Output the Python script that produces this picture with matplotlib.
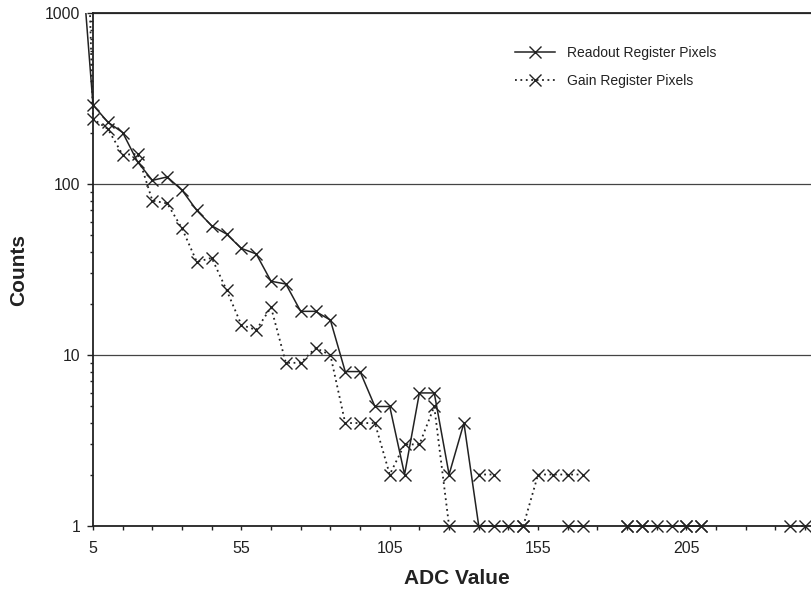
import numpy as np
import matplotlib
matplotlib.use("Agg")
import matplotlib.pyplot as plt
from matplotlib.transforms import Bbox, TransformedBbox
from matplotlib.ticker import FixedLocator, FixedFormatter, NullFormatter

plt.rcParams['font.family'] = ['Liberation Sans', 'DejaVu Sans']

nan = np.nan
adc = list(range(0, 250, 5))

readout = [3800, 290, 230, 200, 135, 105, 110, 92, 70, 57,
           51, 42, 39, 27, 26, 18, 18, 16, 8, 8,
           5, 5, 2, 6, 6, 2, 4, 1, 1, 1,
           1, nan, nan, 1, 1, nan, nan, 1, 1, 1,
           1, 1, 1, nan, nan, nan, nan, nan, nan, nan]

gain = [280000, 240, 210, 148, 150, 80, 77, 55, 35, 37,
        24, 15, 14, 19, 9, 9, 11, 10, 4, 4,
        4, 2, 3, 3, 5, 1, nan, 2, 2, nan,
        1, 2, 2, 2, 2, nan, nan, 1, 1, nan,
        nan, 1, 1, nan, nan, nan, nan, nan, 1, 1]

xtick_labels = ['5', '55', '105', '155', '205']

ink = '#222222'

fig = plt.figure(figsize=(8.12, 6.07), dpi=100)
ax = fig.add_axes([93 / 812, 81 / 607, 727 / 812, 513 / 607])

l1, = ax.plot(adc, readout, color=ink, lw=1.1, ls='-', marker='x',
              markersize=9, markeredgewidth=1.0, label='Readout Register Pixels')
l2, = ax.plot(adc, gain, color=ink, lw=1.3, ls=(0, (1, 2)), marker='x',
              markersize=9, markeredgewidth=1.0, label='Gain Register Pixels')

ax.set_yscale('log')
ax.set_xlim(5, 250)
ax.set_ylim(1, 1000)

# lines leave the plot area at the left edge, clipped only at the top
clip = TransformedBbox(Bbox([[-0.05, -0.05], [1.0, 1.0]]), ax.transAxes)
for ln in (l1, l2):
    ln.set_clip_box(clip)

ax.xaxis.set_major_locator(FixedLocator(range(5, 250, 10)))
ax.xaxis.set_major_formatter(FixedFormatter(
    [xtick_labels[i // 5] if i % 5 == 0 else '' for i in range(25)]))
ax.yaxis.set_major_locator(FixedLocator([1, 10, 100, 1000]))
ax.yaxis.set_major_formatter(FixedFormatter(['1', '10', '100', '1000']))
ax.yaxis.set_minor_formatter(NullFormatter())

ax.tick_params(axis='x', direction='out', length=3, width=1, color=ink,
               labelsize=11.5, labelcolor=ink, pad=8)
ax.tick_params(axis='y', which='major', direction='out', length=4, width=1,
               color=ink, labelsize=11.3, labelcolor=ink, pad=5)
ax.tick_params(axis='y', which='minor', direction='out', length=2.5, width=1,
               color=ink)

ax.grid(True, axis='y', which='major', color='#444444', lw=0.9)
for side in ('left', 'bottom', 'top'):
    ax.spines[side].set_color(ink)
    ax.spines[side].set_linewidth(1.3)
ax.spines['right'].set_visible(False)

ax.set_xlabel('ADC Value', fontsize=15, fontweight='bold', color=ink, labelpad=9)
ax.set_ylabel('Counts', fontsize=15, fontweight='bold', color=ink, labelpad=12)

ax.legend(loc='upper left', bbox_to_anchor=(515 / 812, 1 - 46 / 607),
          bbox_transform=fig.transFigure, frameon=False, fontsize=10,
          handlelength=2.9, handletextpad=0.85, labelspacing=1.0,
          borderpad=0, borderaxespad=0, labelcolor=ink)

fig.savefig('out.png', dpi=100)
